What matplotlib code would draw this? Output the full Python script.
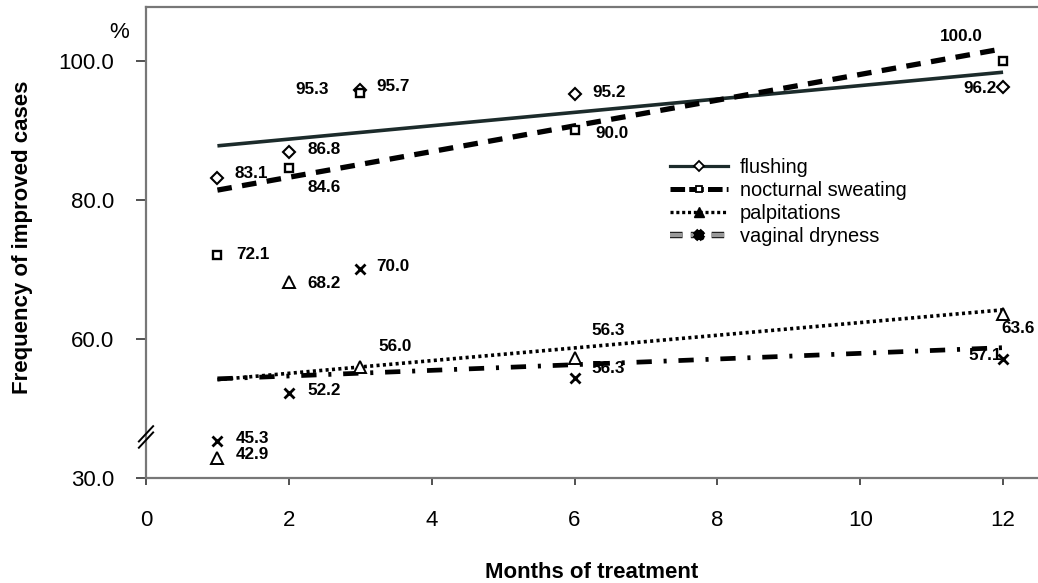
import numpy as np
import matplotlib
matplotlib.use("Agg")
import matplotlib.pyplot as plt
from matplotlib.lines import Line2D
import matplotlib.patheffects as pe
import matplotlib.transforms as mtransforms

plt.rcParams['font.family'] = ['Liberation Sans', 'DejaVu Sans']
plt.rcParams['lines.scale_dashes'] = False

# ---------------- data ----------------
months = [1, 2, 3, 6, 12]
flushing = [83.1, 86.8, 95.7, 95.2, 96.2]
nocturnal_sweating = [72.1, 84.6, 95.3, 90.0, 100.0]
palpitations = [42.9, 68.2, 56.0, 57.3, 63.6]
vaginal_dryness = [45.3, 52.2, 70.0, 54.4, 57.1]

flushing_labels = ["83.1", "86.8", "95.7", "95.2", "96.2"]
nocturnal_labels = ["72.1", "84.6", "95.3", "90.0", "100.0"]
palpitations_labels = ["42.9", "68.2", "56.0", "56.3", "63.6"]
vaginal_labels = ["45.3", "52.2", "70.0", "56.3", "57.1"]

series_names = ["flushing", "nocturnal sweating", "palpitations", "vaginal dryness"]

x_ticks = [0, 2, 4, 6, 8, 10, 12]
y_ticks = [40, 60, 80, 100]
y_tick_labels = ["30.0", "60.0", "80.0", "100.0"]

# ---------------- figure ----------------
W, H = 1038, 583
fig = plt.figure(figsize=(W / 100, H / 100), dpi=100)
ax = fig.add_axes([146 / W, 105 / H, 891 / W, 471 / H])
ax.set_xlim(0, 12.475)
ax.set_ylim(40, 107.7)

spine_col = '#777777'
for s in ['left', 'bottom', 'top']:
    ax.spines[s].set_color(spine_col)
    ax.spines[s].set_linewidth(1.6)
ax.spines['right'].set_visible(False)

ax.set_xticks(x_ticks)
ax.set_yticks(y_ticks)
ax.set_yticklabels(y_tick_labels)
ax.tick_params(axis='both', direction='out', labelsize=16, colors='black')
ax.tick_params(axis='y', length=7, width=1.2, pad=16, color='#333333')
ax.tick_params(axis='x', length=5, width=1.2, pad=18, color='#333333')

ax.set_xlabel("Months of treatment", fontsize=16, fontweight='bold', labelpad=22)
ax.set_ylabel("Frequency of improved cases", fontsize=16, fontweight='bold')
ax.yaxis.set_label_coords(-0.127, 0.51)

ax.text(-0.03, 0.945, "%", transform=ax.transAxes, fontsize=16, ha='center', va='center')

# ---------------- trend lines ----------------
xfit = np.array([min(months), max(months)], dtype=float)

def trend(vals):
    k, b = np.polyfit(months, vals, 1)
    return k * xfit + b

ax.plot(xfit, trend(flushing), color='#1c2b2b', lw=2.6, solid_capstyle='butt', zorder=2)
ax.plot(xfit, trend(nocturnal_sweating), color='black', lw=3.8,
        dashes=(10.5, 7.5), dash_capstyle='butt', zorder=2)
ax.plot(xfit, trend(palpitations), color='black', lw=2.6,
        dashes=(2.2, 2.4), dash_capstyle='butt', zorder=2)
ax.plot(xfit, trend(vaginal_dryness), color='black', lw=3.4,
        dashes=(11, 8.5, 2.2, 8.5), dash_capstyle='butt', zorder=2)

# ---------------- markers ----------------
mk = dict(ls='none', mec='black', zorder=4, clip_on=False)
ax.plot(months, flushing, marker='D', ms=6, mfc='white', mew=1.5, **mk)
ax.plot(months, nocturnal_sweating, marker='s', ms=6, mfc='white', mew=1.7, **mk)
ax.plot(months, palpitations, marker='^', ms=8, mfc='white', mew=1.4, **mk)
ax.plot(months, vaginal_dryness, marker='x', ms=7, mew=2.0, **mk)

# ---------------- data labels ----------------
lab_kw = dict(textcoords='offset pixels', ha='center', va='center',
              fontsize=12.3, fontweight='bold', annotation_clip=False, zorder=5)
offsets = {
    'flushing': [(34, 4.5), (35, 3), (33, 4), (35, 1), (-23, -1.5)],
    'nocturnal': [(36, 0), (35, -20), (-48, 4), (37, -3.5), (-42, 24)],
    'palpitations': [(35, 3), (35, -2), (35, 20), (34, 27), (15, -15)],
    'vaginal': [(35, 3), (35, 3), (33, 2.5), (34, 9), (-18, 4)],
}
for key, vals, labs in [('flushing', flushing, flushing_labels),
                        ('nocturnal', nocturnal_sweating, nocturnal_labels),
                        ('palpitations', palpitations, palpitations_labels),
                        ('vaginal', vaginal_dryness, vaginal_labels)]:
    for xv, yv, lab, off in zip(months, vals, labs, offsets[key]):
        ax.annotate(lab, (xv, yv), xytext=off, **lab_kw)

# ---------------- axis break marks ----------------
trans = mtransforms.blended_transform_factory(ax.transAxes, ax.transData)
for dy in (-0.45, 0.45):
    ax.plot([-0.008, 0.008], [44.8 + dy, 47.0 + dy], color='black', lw=1.4,
            transform=trans, clip_on=False, zorder=6)

# ---------------- legend ----------------
handles = [
    Line2D([], [], color='#1c2b2b', lw=2.3, marker='D', ms=5, mfc='white', mec='black', mew=1.3),
    Line2D([], [], color='black', lw=3.6, dashes=(10.5, 3), marker='s', ms=5, mfc='white', mec='black', mew=1.3),
    Line2D([], [], color='black', lw=2.4, dashes=(2.2, 2.0), marker='^', ms=7, mfc='black', mec='black', mew=1.0),
    Line2D([], [], color='#999999', lw=3.2, dashes=(9, 6), marker='x', ms=6, mec='black', mew=1.8,
           path_effects=[pe.Stroke(linewidth=4.6, foreground='black'), pe.Normal()]),
]
leg = ax.legend(handles, series_names, loc='upper left', bbox_to_anchor=(0.588, 0.68),
                frameon=False, fontsize=14.4, handlelength=2.9, handletextpad=0.6,
                labelspacing=0.2, borderpad=0, borderaxespad=0)

fig.savefig("out.png", dpi=100)
